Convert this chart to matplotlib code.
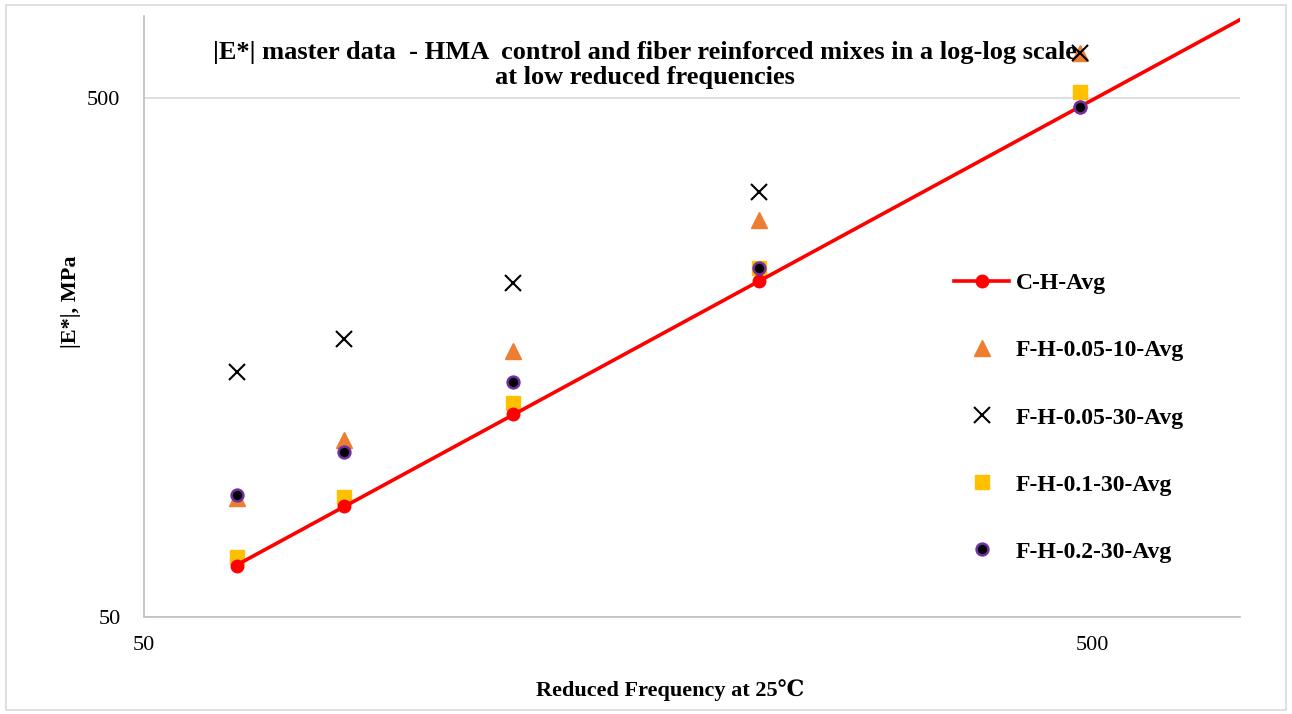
import numpy as np
import matplotlib
matplotlib.use("Agg")
import matplotlib.pyplot as plt
from matplotlib.ticker import FixedLocator, NullLocator, FixedFormatter

plt.rcParams['font.family'] = ['Liberation Serif', 'DejaVu Serif']

# reduced frequency at 25C and |E*| (MPa) per mix
freq = [62.7, 81.3, 122.5, 222.7, 485.5]
ch_avg = [62.7, 81.8, 123.1, 222.0, 480.0]
f_005_10 = [84.7, 109.7, 162.7, 291.0, 609.0]
f_005_30 = [148.3, 171.6, 220.1, 329.5, 610.0]
f_01_30 = [65.2, 85.2, 129.2, 235.2, 513.0]
f_02_30 = [85.9, 103.9, 141.9, 235.2, 480.0]

fig = plt.figure(figsize=(12.92, 7.14), dpi=100)
ax = fig.add_axes([0.1115, 0.1359, 0.8483, 0.8417])
ax.set_xscale('log')
ax.set_yscale('log')
ax.set_xlim(50, 716)
ax.set_ylim(50, 719)

# power fit through the control mix, carried to the edge of the plot
p = np.polyfit(np.log10(freq), np.log10(ch_avg), 1)
xf = np.array([freq[0], 716])
ax.plot(xf, 10 ** np.polyval(p, np.log10(xf)), color='#FF0000', lw=2.6, zorder=4)
ax.plot(freq, ch_avg, 'o', color='#FF0000', ms=9, zorder=4)

ax.plot(freq, f_005_10, '^', color='#ED7D31', ms=11, mec='#ED7D31', zorder=3)
ax.plot(freq, f_005_30, 'x', color='black', ms=12, mew=1.5, zorder=3)
ax.plot(freq, f_01_30, 's', color='#FFC000', ms=9.5, zorder=3)
ax.plot(freq, f_02_30, 'o', color='black', mec='#7030A0', mew=1.8, ms=8.5, zorder=5)

# legend built from proxy handles so the red entry shows line + marker
h = [
    plt.Line2D([], [], color='#FF0000', lw=2.6, marker='o', ms=9),
    plt.Line2D([], [], ls='', marker='^', color='#ED7D31', ms=11),
    plt.Line2D([], [], ls='', marker='x', color='black', ms=12, mew=1.5),
    plt.Line2D([], [], ls='', marker='s', color='#FFC000', ms=9.5),
    plt.Line2D([], [], ls='', marker='o', color='black', mec='#7030A0', mew=1.8, ms=8.5),
]
labels = ['C-H-Avg', 'F-H-0.05-10-Avg', 'F-H-0.05-30-Avg', 'F-H-0.1-30-Avg', 'F-H-0.2-30-Avg']
ax.legend(h, labels, loc='upper left', bbox_to_anchor=(0.72, 0.608), frameon=False,
          prop={'weight': 'bold', 'size': 17}, labelspacing=1.93, handlelength=2.3,
          handletextpad=0.3)

ax.xaxis.set_major_locator(FixedLocator([50, 500]))
ax.xaxis.set_major_formatter(FixedFormatter(['50', '500']))
ax.yaxis.set_major_locator(FixedLocator([50, 500]))
ax.yaxis.set_major_formatter(FixedFormatter(['50', '500']))
ax.xaxis.set_minor_locator(NullLocator())
ax.yaxis.set_minor_locator(NullLocator())
ax.tick_params(length=0, labelsize=16, pad=14, axis='x')
ax.tick_params(length=0, labelsize=16, pad=17, axis='y')
ax.grid(axis='y', color='#D9D9D9', lw=1.2)
ax.set_axisbelow(True)
for s in ['top', 'right']:
    ax.spines[s].set_visible(False)
for s in ['left', 'bottom']:
    ax.spines[s].set_color('#BFBFBF')
    ax.spines[s].set_linewidth(1.2)

fig.text(0.5186, 0.0336, 'Reduced Frequency at 25\u2103', ha='center', va='center',
         fontsize=16, fontweight='bold')
fig.text(0.055, 0.577, '|E*|, MPa', ha='center', va='center', rotation=90,
         fontsize=16, fontweight='bold')

fig.text(0.499, 0.909, '|E*| master data  - HMA  control and fiber reinforced mixes in a log-log scale\nat low reduced frequencies',
         ha='center', va='center', fontsize=19, fontweight='bold', linespacing=1.1)

# light frame round the whole chart area
fig.patches.append(plt.Rectangle((0.005, 0.005), 0.99, 0.988, transform=fig.transFigure,
                                 fill=False, ec='#D9D9D9', lw=1.2))

fig.savefig('out.png', dpi=100)
